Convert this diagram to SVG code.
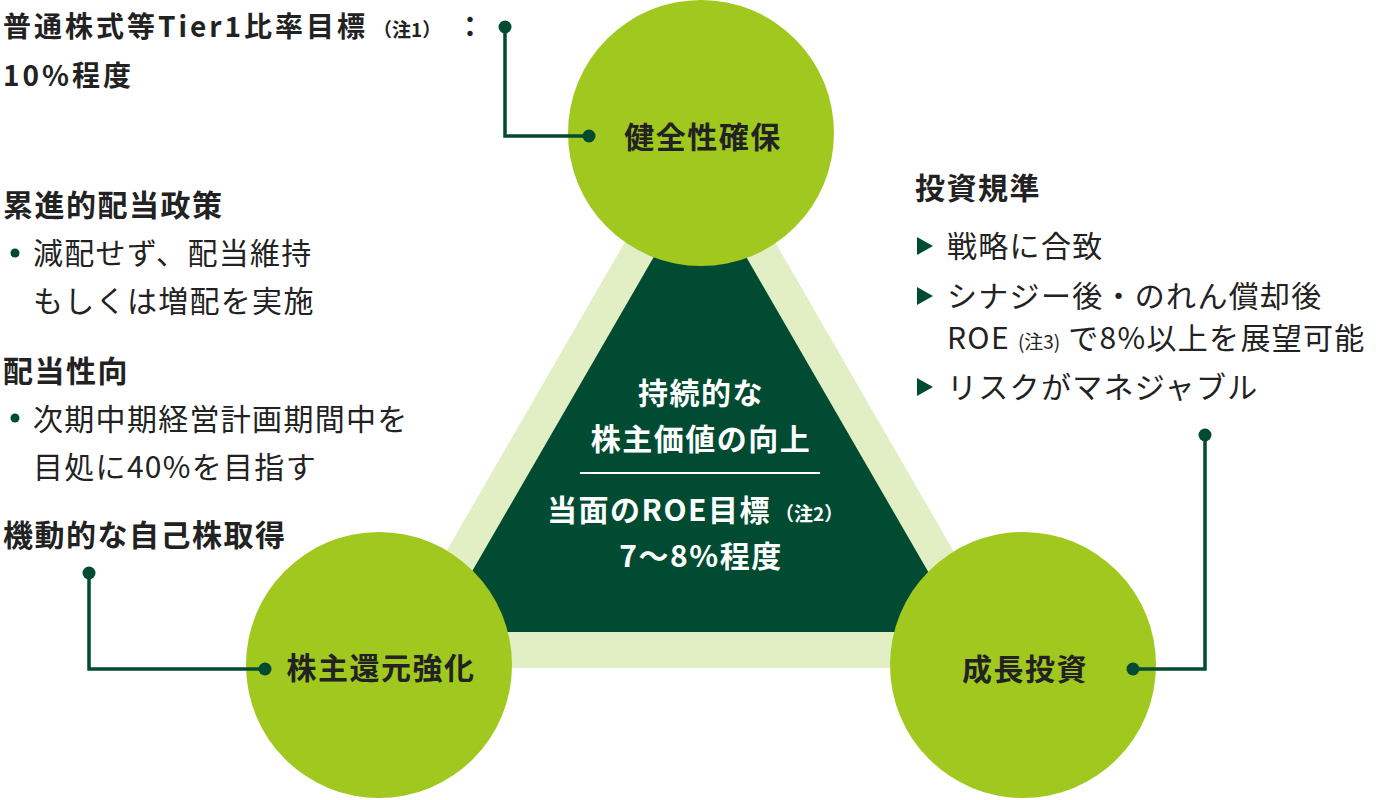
<svg xmlns="http://www.w3.org/2000/svg" width="1400" height="800" viewBox="0 0 1400 800">
<style>
text{font-family:"Noto Sans CJK JP","Noto Sans",sans-serif;fill:#222;}
.h{font-size:30px;font-weight:700;letter-spacing:1.5px;}
.t{font-size:28px;font-weight:700;letter-spacing:3px;}
.b{font-size:30px;font-weight:400;letter-spacing:1.3px;}
.s{font-size:19px;letter-spacing:0;}
.w{fill:#fff;font-size:30px;font-weight:700;letter-spacing:1.5px;}
.lbl{font-size:30px;font-weight:700;letter-spacing:1.5px;text-anchor:middle;}
.circ{fill:#a0c81e;}
.con{fill:none;stroke:#004b32;stroke-width:3.5;}
.dot{fill:#004b32;}
</style>
<g id="triangle">
<polygon points="700,112 379,668 1021,668" fill="#e2eec3"/>
<polygon points="700,177 437,632 963,632" fill="#004b32"/>
</g>
<g id="center">
<text class="w" x="701" y="404" text-anchor="middle">持続的な</text>
<text class="w" x="701" y="450" text-anchor="middle">株主価値の向上</text>
<line x1="580" y1="473" x2="820" y2="473" stroke="#fff" stroke-width="2"/>
<text class="w" x="547" y="521">当面のROE目標<tspan class="s" x="775" font-weight="700">（注2）</tspan></text>
<text class="w" x="701" y="567" text-anchor="middle">7〜8%程度</text>
</g>
<g id="node-top">
<circle class="circ" cx="701" cy="133" r="133"/>
<text class="lbl" x="703" y="148">健全性確保</text>
</g>
<g id="node-left">
<circle class="circ" cx="379" cy="665" r="133"/>
<text class="lbl" x="381" y="679">株主還元強化</text>
</g>
<g id="node-right">
<circle class="circ" cx="1023" cy="665" r="133"/>
<text class="lbl" x="1025" y="680">成長投資</text>
</g>
<g id="connectors">
<polyline class="con" points="505,27 505,136 589,136"/>
<circle class="dot" cx="505" cy="27" r="6.5"/>
<circle class="dot" cx="589" cy="136" r="6.5"/>
<polyline class="con" points="89,573 89,669 265,669"/>
<circle class="dot" cx="89" cy="573" r="6.5"/>
<circle class="dot" cx="265" cy="669" r="6.5"/>
<polyline class="con" points="1205,435 1205,669 1133,669"/>
<circle class="dot" cx="1205" cy="435" r="6.5"/>
<circle class="dot" cx="1133" cy="669" r="6.5"/>
</g>
<g id="text-top">
<text class="t" x="3" y="37">普通株式等Tier1比率目標<tspan class="s" x="373">（注1）</tspan><tspan x="456">：</tspan></text>
<text class="t" x="3" y="86">10%程度</text>
</g>
<g id="text-left">
<text class="h" x="3" y="216">累進的配当政策</text>
<circle class="dot" cx="15" cy="253" r="4.5"/>
<text class="b" x="33" y="264">減配せず、配当維持</text>
<text class="b" x="33" y="312">もしくは増配を実施</text>
<text class="h" x="3" y="382">配当性向</text>
<circle class="dot" cx="15" cy="418" r="4.5"/>
<text class="b" x="33" y="430">次期中期経営計画期間中を</text>
<text class="b" x="33" y="478">目処に40%を目指す</text>
<text class="h" x="3" y="546">機動的な自己株取得</text>
</g>
<g id="text-right">
<text class="h" x="915" y="199">投資規準</text>
<polygon class="dot" points="917,237 933,246 917,255"/>
<text class="b" x="947" y="257">戦略に合致</text>
<polygon class="dot" points="917,287 933,296 917,305"/>
<text class="b" x="947" y="307">シナジー後・のれん償却後</text>
<text class="b" x="947" y="349">ROE <tspan class="s">(注3)</tspan> で8%以上を展望可能</text>
<polygon class="dot" points="917,378 933,387 917,396"/>
<text class="b" x="947" y="398">リスクがマネジャブル</text>
</g>
</svg>
